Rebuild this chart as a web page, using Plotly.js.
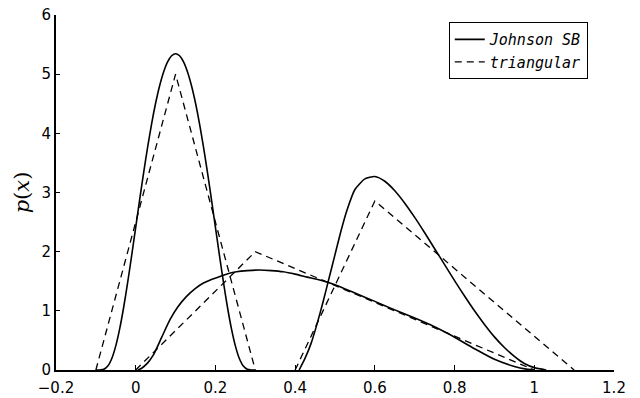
<!DOCTYPE html>
<html>
<head>
<meta charset="utf-8">
<script src="https://cdn.plot.ly/plotly-3.0.1.min.js"></script>
<style>html,body{margin:0;padding:0;background:#fff;}</style>
</head>
<body>
<div id="chart" style="width:640px;height:398px;"></div>
<script>
// Narrow component (Johnson SB and triangular)
const narrowX = [-0.1,-0.09,-0.08,-0.07,-0.06,-0.05,-0.04,-0.03,-0.02,-0.01,0,0.01,0.02,0.03,0.04,0.05,0.06,0.07,0.08,0.09,0.1,0.11,0.12,0.13,0.14,0.15,0.16,0.17,0.18,0.19,0.2,0.21,0.22,0.23,0.24,0.25,0.26,0.27,0.28,0.29,0.3];
const narrowJohnson = [0,0,0.012,0.067,0.195,0.408,0.703,1.069,1.488,1.941,2.412,2.883,3.341,3.771,4.165,4.512,4.805,5.038,5.208,5.311,5.346,5.311,5.208,5.038,4.805,4.512,4.165,3.771,3.341,2.883,2.412,1.941,1.488,1.069,0.703,0.408,0.195,0.067,0.012,0,0];
const narrowTriX = [-0.1,0.1,0.3];
const narrowTriY = [0,5,0];

// Broad component
const broadX = [0.005,0.015,0.03,0.044,0.065,0.086,0.105,0.127,0.15,0.17,0.19,0.212,0.233,0.253,0.28,0.31,0.34,0.37,0.4,0.43,0.462,0.5,0.55,0.6,0.638,0.7,0.738,0.788,0.85,0.9,0.95,0.98,1.0];
const broadJohnson = [0,0.03,0.12,0.25,0.55,0.85,1.06,1.24,1.38,1.47,1.53,1.58,1.63,1.66,1.68,1.69,1.68,1.66,1.62,1.57,1.52,1.44,1.30,1.16,1.05,0.88,0.77,0.6,0.36,0.18,0.06,0.015,0];
const broadTriX = [0,0.3,1.0];
const broadTriY = [0,2,0];

// Right component
const rightX = [0.41,0.425,0.44,0.455,0.47,0.485,0.5,0.515,0.53,0.55,0.575,0.6,0.625,0.65,0.675,0.7,0.725,0.75,0.775,0.8,0.825,0.85,0.875,0.9,0.925,0.95,0.975,1.0,1.03];
const rightJohnson = [0,0.2,0.45,0.78,1.15,1.55,1.95,2.35,2.7,3.05,3.23,3.27,3.19,3.03,2.82,2.58,2.32,2.05,1.78,1.51,1.25,1.0,0.77,0.56,0.38,0.23,0.11,0.04,0];
const rightTriX = [0.4,0.6,1.1];
const rightTriY = [0,2.857,0];

const xTicks = [-0.2,0,0.2,0.4,0.6,0.8,1,1.2];
const xTickText = ['\u22120.2','0','0.2','0.4','0.6','0.8','1','1.2'];
const yTicks = [0,1,2,3,4,5,6];

const solid = {color:'#000', width:1.6, shape:'spline', smoothing:0.6};
const dashed = {color:'#000', width:1.3, dash:'7px,5px'};

const traces = [
  {x:narrowX, y:narrowJohnson, mode:'lines', line:solid, name:'<i>Johnson SB</i>', legendgroup:'j', showlegend:true},
  {x:narrowTriX, y:narrowTriY, mode:'lines', line:dashed, name:'<i>triangular</i>', legendgroup:'t', showlegend:true},
  {x:broadX, y:broadJohnson, mode:'lines', line:solid, legendgroup:'j', showlegend:false},
  {x:broadTriX, y:broadTriY, mode:'lines', line:dashed, legendgroup:'t', showlegend:false},
  {x:rightX, y:rightJohnson, mode:'lines', line:solid, legendgroup:'j', showlegend:false},
  {x:rightTriX, y:rightTriY, mode:'lines', line:dashed, legendgroup:'t', showlegend:false}
];

const tickFont = {family:'DejaVu Sans', size:15, color:'#000'};
const layout = {
  width:640, height:398,
  margin:{l:56, r:26, t:15, b:28, pad:0},
  paper_bgcolor:'#fff', plot_bgcolor:'#fff',
  showlegend:true,
  legend:{
    x:0.953, xanchor:'right', y:0.98, yanchor:'top',
    bordercolor:'#000', borderwidth:1, bgcolor:'#fff',
    font:{family:'DejaVu Sans Mono', size:15, color:'#000'},
    tracegroupgap:0
  },
  xaxis:{
    range:[-0.2,1.2], tickvals:xTicks, ticktext:xTickText,
    showgrid:false, zeroline:false, showline:true, linecolor:'#000', linewidth:2,
    ticks:'inside', ticklen:5, tickwidth:1.2, tickcolor:'#000',
    tickfont:tickFont, ticklabelstandoff:3
  },
  yaxis:{
    range:[0,6], tickvals:yTicks,
    showgrid:false, zeroline:false, showline:true, linecolor:'#000', linewidth:2,
    ticks:'inside', ticklen:4, tickwidth:1.2, tickcolor:'#000',
    tickfont:tickFont,
    title:{text:'<i>p</i>(<i>x</i>)', font:{family:'DejaVu Serif', size:21, color:'#000'}, standoff:6}
  }
};

Plotly.newPlot('chart', traces, layout, {displayModeBar:false, staticPlot:true});
</script>
</body>
</html>
